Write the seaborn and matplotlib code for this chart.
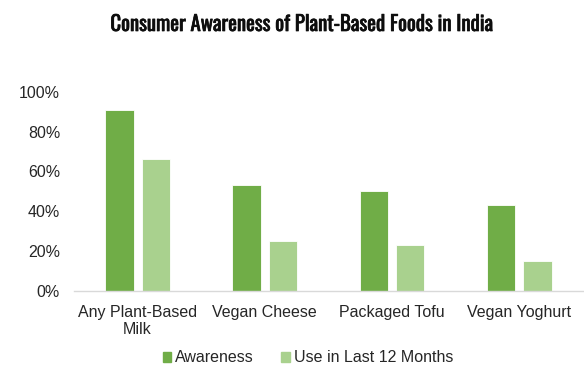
import matplotlib
matplotlib.use("Agg")
import matplotlib.pyplot as plt
import matplotlib.patheffects as pe
from matplotlib.ticker import PercentFormatter
import seaborn as sns
import pandas as pd

categories = ["Any Plant-Based\nMilk", "Vegan Cheese", "Packaged Tofu", "Vegan Yoghurt"]
awareness = [91, 53, 50, 43]
use_last_12 = [66, 25, 23, 15]
series_names = ["Awareness", "Use in Last 12 Months"]
colors = ["#70AD47", "#A9D18E"]

df = pd.DataFrame({
    "Food": categories * 2,
    "Series": [series_names[0]] * 4 + [series_names[1]] * 4,
    "Share": awareness + use_last_12,
})

sns.set_theme(style="white")
plt.rcParams["font.family"] = ["Liberation Sans", "DejaVu Sans"]

fig = plt.figure(figsize=(5.84, 3.72), dpi=100)
ax = fig.add_axes([0.1267, 0.2185, 0.8713, 0.535])

sns.barplot(data=df, x="Food", y="Share", hue="Series", palette=colors,
            saturation=1, width=0.572, gap=0.217, ax=ax, legend=False,
            edgecolor="white", linewidth=0.6)

ax.set_ylim(0, 100)
ax.set_xlim(-0.5, 3.5)
ax.set_yticks([0, 20, 40, 60, 80, 100])
ax.yaxis.set_major_formatter(PercentFormatter(decimals=0))
ax.set_xlabel("")
ax.set_ylabel("")
ax.tick_params(axis="both", length=0, labelsize=11.5, colors="#262626")
ax.tick_params(axis="x", pad=10)
ax.tick_params(axis="y", pad=10)
for side in ["top", "right", "left"]:
    ax.spines[side].set_visible(False)
ax.spines["bottom"].set_color("#D9D9D9")
ax.spines["bottom"].set_linewidth(1.0)

handles = [plt.Rectangle((0, 0), 1, 1, color=c) for c in colors]
fig.legend(handles, series_names, loc="center", bbox_to_anchor=(308 / 584, 1 - 358 / 372),
           ncol=2, frameon=False, fontsize=11.5, handlelength=0.55, handleheight=0.55,
           handletextpad=0.25, columnspacing=1.7, labelcolor="#262626")

title = fig.text(301 / 584, 1 - 24 / 372, "Consumer Awareness of Plant-Based Foods in India",
                 ha="center", va="center", fontsize=15, fontweight="bold",
                 family=["Oswald", "Barlow Condensed", "DejaVu Sans"], color="#0d0d0d")
title.set_path_effects([pe.withStroke(linewidth=0.5, foreground="#0d0d0d")])

fig.savefig("out.png", dpi=100)
